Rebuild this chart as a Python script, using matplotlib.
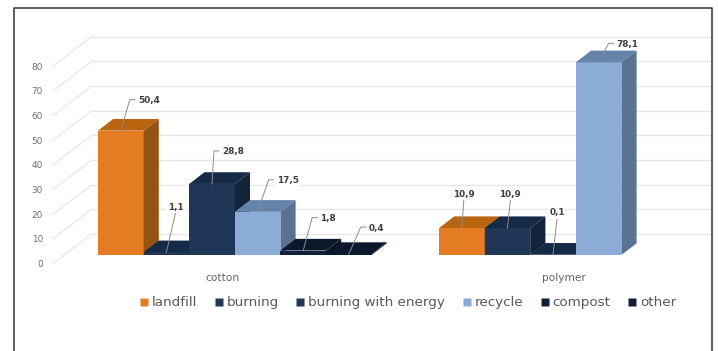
import matplotlib
matplotlib.use("Agg")
import matplotlib.pyplot as plt
from matplotlib.lines import Line2D
from matplotlib.patches import Polygon

groups = ["cotton", "polymer"]
series = ["landfill", "burning", "burning with energy", "recycle", "compost", "other"]
cotton = [50.4, 1.1, 28.8, 17.5, 1.8, 0.4]
polymer = [10.9, 10.9, 0.1, 78.1, None, None]
value_ticks = [0, 10, 20, 30, 40, 50, 60, 70, 80]

front_colors = ["#E47C24", "#203656", "#203656", "#8BACD6", "#10203A", "#10203A"]
top_colors = ["#B9640F", "#152A47", "#152A47", "#6483A8", "#0B172B", "#0B172B"]
side_colors = ["#955212", "#12233C", "#12233C", "#5A7291", "#0A1526", "#0A1526"]

W, H = 718, 351
PX_PER_GROUP = 341.0
PX_PER_UNIT = 2.467
ORIGIN_X, ORIGIN_Y = 234.8, 255.0


def dx(px):
    return px / PX_PER_GROUP


def dy(px):
    return px / PX_PER_UNIT


BAR_W = dx(45.6)
DEPTH_X, DEPTH_Y = dx(15.2), dy(11.7)

fig = plt.figure(figsize=(W / 100, H / 100), dpi=100, facecolor="white")
ax = fig.add_axes([0, 0, 1, 1])
ax.set_xlim(dx(-ORIGIN_X), dx(W - ORIGIN_X))
ax.set_ylim(dy(ORIGIN_Y - H), dy(ORIGIN_Y))
ax.axis("off")

# Back wall and side wall gridlines
wall_left, wall_right = dx(53.3 - ORIGIN_X), dx(711 - ORIGIN_X)
back_left = dx(91.7 - ORIGIN_X)
front_shift, back_shift = dy(-8.3), dy(21)
for v in value_ticks:
    ax.plot([back_left, wall_right], [v + back_shift] * 2, color="#E6E6E6", lw=1, zorder=1)
    ax.plot([wall_left, back_left], [v + front_shift, v + back_shift], color="#E9E9E9", lw=1, zorder=1)
    ax.text(dx(43 - ORIGIN_X), v + dy(-9.5), str(v), ha="right", va="center",
            fontsize=6.4, color="#707070", zorder=2)


def draw_bar(x0, value, idx, order):
    x1 = x0 + BAR_W
    z = 3 + order * 0.01
    ax.bar(x0, value, BAR_W, align="edge", color=front_colors[idx], lw=0, zorder=z)
    ax.add_patch(Polygon([(x0, value), (x1, value), (x1 + DEPTH_X, value + DEPTH_Y),
                          (x0 + DEPTH_X, value + DEPTH_Y)],
                         fc=top_colors[idx], lw=0, zorder=z))
    ax.add_patch(Polygon([(x1, 0), (x1 + DEPTH_X, DEPTH_Y), (x1 + DEPTH_X, value + DEPTH_Y),
                          (x1, value)],
                         fc=side_colors[idx], lw=0, zorder=z))


order = 0
for g, values in enumerate([cotton, polymer]):
    for i, value in enumerate(values):
        if value is None:
            continue
        draw_bar(g + (i - 3) * BAR_W, value, i, order)
        order += 1

# Value labels with leader lines: (rise, run to elbow, elbow length, centred above?)
cotton_leaders = [
    (31, 9, 5, False), (39, 9, 0, True), (33, 2, 5, False),
    (32, 11, 5, False), (33, 9, 5, False), (27, 12, 5, False),
]
polymer_leaders = [
    (28, 2, 0, True), (28, 3, 0, True), (36, 4, 0, True), (19, 10, 5, False),
]
label_color = "#404040"
for g, values, leaders in [(0, cotton, cotton_leaders), (1, polymer, polymer_leaders)]:
    for i, (value, leader) in enumerate(zip(values, leaders)):
        rise, run, elbow, above = leader
        xc = g + (i - 2.5) * BAR_W
        xe, ye = xc + dx(run), value + dy(rise)
        ax.plot([xc, xe, xe + dx(elbow)], [value, ye, ye], color="#8C8C8C", lw=0.7, zorder=5)
        text = f"{value:.1f}".replace(".", ",")
        box = dict(fc="white", ec="none", pad=1)
        if above:
            ax.text(xe, ye + dy(6), text, ha="center", va="center", fontsize=6.4,
                    fontweight="bold", color=label_color, bbox=box, zorder=6)
        else:
            ax.text(xe + dx(elbow + 3), ye - dy(1), text, ha="left", va="center", fontsize=6.4,
                    fontweight="bold", color=label_color, bbox=box, zorder=6)

for g, name in enumerate(groups):
    ax.text(g + dx(-12), dy(-23), name, ha="center", va="center", fontsize=7.6,
            color="#666666", zorder=6)

handles = [Line2D([], [], ls="none", marker="s", ms=5.5, mfc=c, mec="none") for c in front_colors]
ax.legend(handles, series, loc="center", bbox_to_anchor=(0.5687, 0.1368), ncols=6, frameon=False,
          fontsize=9.7, labelcolor="#595959", handlelength=0.5, handletextpad=0.33,
          columnspacing=1.36, borderpad=0, borderaxespad=0)

# Chart frame: open along the bottom edge
frame_x = [13.5 / W, 13.5 / W, 711.5 / W, 711.5 / W]
frame_y = [0, 1 - 8 / H, 1 - 8 / H, 0]
fig.add_artist(Line2D(frame_x, frame_y, transform=fig.transFigure, color="#333333", lw=1.1))

fig.savefig("out.png", dpi=100)
